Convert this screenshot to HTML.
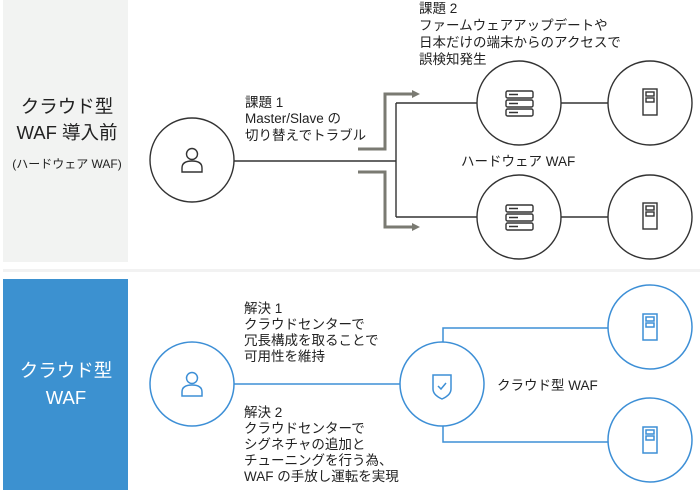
<!DOCTYPE html>
<html><head><meta charset="utf-8"><style>
html,body{margin:0;padding:0;background:#fff;}
body{width:700px;height:492px;overflow:hidden;position:relative;font-family:"Liberation Sans","Noto Sans CJK JP",sans-serif;}
svg{position:absolute;left:0;top:0;}
</style></head><body>
<svg width="700" height="492" viewBox="0 0 700 492" xmlns="http://www.w3.org/2000/svg" font-family="Liberation Sans, Noto Sans CJK JP, sans-serif">
<rect x="3" y="0" width="125" height="262" fill="#f2f3f2"/>
<rect x="3" y="269" width="697" height="3" fill="#f2f2f2"/>
<rect x="3" y="279" width="125" height="211" fill="#3c91d0"/>
<g text-anchor="middle" fill="#222">
<text x="67" y="113" font-size="18.5">クラウド型</text>
<text x="67" y="139" font-size="18.5">WAF 導入前</text>
<text x="67" y="168" font-size="12">(ハードウェア WAF)</text>
</g>
<g text-anchor="middle" fill="#fff">
<text x="66" y="377" font-size="18.5">クラウド型</text>
<text x="66" y="404" font-size="18.5">WAF</text>
</g>
<!-- top diagram -->
<g stroke="#333" stroke-width="1.4" fill="none">
<circle cx="192" cy="160" r="42"/>
<circle cx="519" cy="103" r="42"/>
<circle cx="519" cy="217" r="42"/>
<circle cx="650" cy="103" r="42"/>
<circle cx="650" cy="217" r="42"/>
<path d="M234 161 H396 M396 103 V217 M396 103 H477 M396 217 H477 M561 103 H608 M561 217 H608"/>
</g>
<g stroke="#7a7a72" stroke-width="3" fill="none">
<path d="M358 149 H385 V94 H414"/>
<path d="M358 172 H385 V227 H414"/>
</g>
<path d="M412 90 L420 94 L412 98 Z" fill="#7a7a72"/>
<path d="M412 223 L420 227 L412 231 Z" fill="#7a7a72"/>
<g stroke="#333" stroke-width="1.4" fill="none">
<circle cx="192" cy="154" r="5.5"/>
<path d="M182 172 V168 Q182 161 192 161 Q202 161 202 168 V172 Z"/>
</g>
<g stroke="#333" stroke-width="1.4" fill="none">
<rect x="506" y="91" width="27" height="7" rx="1.5"/><rect x="506" y="100" width="27" height="7" rx="1.5"/><rect x="506" y="109" width="27" height="7" rx="1.5"/>
<path d="M509 94.5 H518 M509 103.5 H518 M509 112.5 H518"/>
<rect x="506" y="205" width="27" height="7" rx="1.5"/><rect x="506" y="214" width="27" height="7" rx="1.5"/><rect x="506" y="223" width="27" height="7" rx="1.5"/>
<path d="M509 208.5 H518 M509 217.5 H518 M509 226.5 H518"/>
<rect x="643" y="89" width="14" height="26"/><rect x="646" y="92" width="8" height="4"/><rect x="646" y="98" width="8" height="4"/>
<rect x="643" y="203" width="14" height="26"/><rect x="646" y="206" width="8" height="4"/><rect x="646" y="212" width="8" height="4"/>
</g>
<g font-size="13.5" fill="#222">
<text x="245" y="107">課題 1</text>
<text x="245" y="123">Master/Slave の</text>
<text x="245" y="140">切り替えでトラブル</text>
<text x="419" y="13">課題 2</text>
<text x="419" y="30">ファームウェアアップデートや</text>
<text x="419" y="47">日本だけの端末からのアクセスで</text>
<text x="419" y="64">誤検知発生</text>
<text x="461" y="166">ハードウェア WAF</text>
</g>
<!-- bottom diagram -->
<g stroke="#3d8fd6" stroke-width="1.5" fill="none">
<circle cx="192" cy="384" r="42"/>
<circle cx="442" cy="384" r="42"/>
<circle cx="650" cy="327" r="42"/>
<circle cx="650" cy="440" r="42"/>
<path d="M234 384 H400 M443 342 V328 H608 M443 426 V442 H608"/>
<circle cx="192" cy="378" r="5.5"/>
<path d="M182 396 V392 Q182 385 192 385 Q202 385 202 392 V396 Z"/>
<path d="M433 375 H451 V389 Q451 395 442 399 Q433 395 433 389 Z"/>
<path d="M438 386 L441 389 L446 383"/>
<rect x="643" y="314" width="14" height="26"/><rect x="646" y="317" width="8" height="4"/><rect x="646" y="323" width="8" height="4"/>
<rect x="643" y="427" width="14" height="26"/><rect x="646" y="430" width="8" height="4"/><rect x="646" y="436" width="8" height="4"/>
</g>
<g font-size="13.5" fill="#222">
<text x="244" y="313">解決 1</text>
<text x="244" y="329">クラウドセンターで</text>
<text x="244" y="345">冗長構成を取ることで</text>
<text x="244" y="361">可用性を維持</text>
<text x="244" y="417">解決 2</text>
<text x="244" y="433">クラウドセンターで</text>
<text x="244" y="449">シグネチャの追加と</text>
<text x="244" y="465">チューニングを行う為、</text>
<text x="244" y="481">WAF の手放し運転を実現</text>
<text x="497" y="390">クラウド型 WAF</text>
</g>
</svg>
</body></html>
